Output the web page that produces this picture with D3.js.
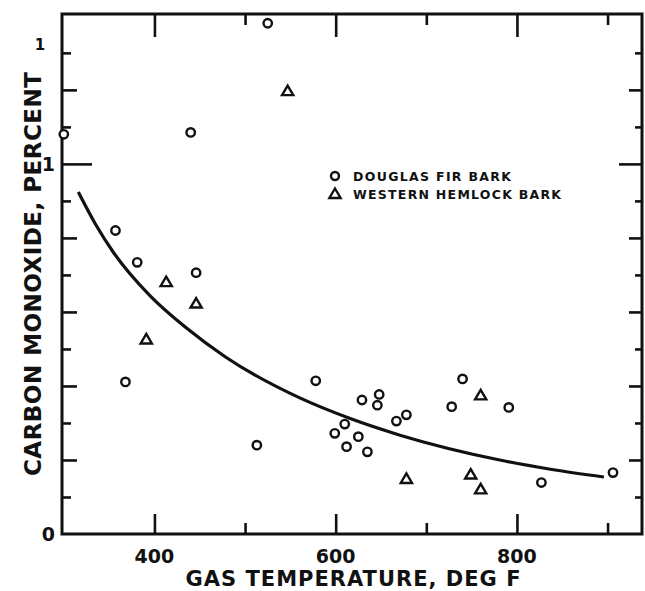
<!DOCTYPE html>
<html>
<head>
<meta charset="utf-8">
<script src="https://cdn.jsdelivr.net/npm/d3@7"></script>
<style>
  body { margin: 0; background: #fff; }
  text { font-family: "DejaVu Sans", sans-serif; font-weight: bold; fill: #111; }
</style>
</head>
<body>
<svg id="chart" width="645" height="591"></svg>
<script>
// Douglas fir bark: gas temperature (deg F) and carbon monoxide (percent)
const firTemp = [300, 525, 440, 357, 381, 446, 368, 513, 578, 629, 648, 646, 678, 667, 610, 599, 625, 612, 635, 740, 728, 791, 827, 906];
const firCO   = [1.08, 1.38, 1.085, 0.82, 0.734, 0.706, 0.411, 0.24, 0.414, 0.362, 0.377, 0.348, 0.322, 0.305, 0.297, 0.272, 0.263, 0.236, 0.222, 0.419, 0.344, 0.342, 0.139, 0.166];

// Western hemlock bark
const hemTemp = [547, 413, 391, 446, 760, 678, 749, 760];
const hemCO   = [1.198, 0.682, 0.527, 0.624, 0.376, 0.150, 0.162, 0.122];

// Smoothed trend through both sets
const trendTemp = [316, 335, 355, 395, 435, 478, 561, 616, 671, 781, 837, 896];
const trendCO   = [0.924, 0.837, 0.760, 0.644, 0.557, 0.479, 0.367, 0.312, 0.267, 0.200, 0.175, 0.154];

// Axis ticks and labels
const xLabelTicks = [400, 600, 800];
const xLongTicks  = [400, 600, 800];
const xShortTicks = [500, 700, 900];
const yLabelTicks = [0, 1];
const yLongTicks  = [1];
const yMidTicks   = [0.2, 0.4, 0.6, 0.8, 1.2];
const yShortTicks = [0.1, 0.3, 0.5, 0.7, 0.9, 1.1, 1.3];

const legendItems = ["DOUGLAS FIR BARK", "WESTERN HEMLOCK BARK"];
const xTitle = "GAS TEMPERATURE, DEG F";
const yTitle = "CARBON MONOXIDE, PERCENT";
const yTitleNote = "1";

const svg = d3.select("#chart");
const L = 62, R = 642, T = 14, B = 534;

const x = d3.scaleLinear().domain([298, 938]).range([L, R]);
const y = d3.scaleLinear().domain([0, 1.405]).range([B, T]);

// frame
svg.append("rect")
  .attr("x", L).attr("y", T).attr("width", R - L).attr("height", B - T)
  .attr("fill", "none").attr("stroke", "#111").attr("stroke-width", 3);

function ticks(axisGen, transform, vals, len) {
  const g = svg.append("g").attr("transform", transform)
    .call(axisGen.tickValues(vals).tickSize(-len).tickFormat(""));
  g.select(".domain").remove();
  g.selectAll(".tick line").attr("stroke", "#111").attr("stroke-width", 2.6);
}

ticks(d3.axisLeft(y), `translate(${L},0)`, yLongTicks, 30);
ticks(d3.axisLeft(y), `translate(${L},0)`, yMidTicks, 15);
ticks(d3.axisLeft(y), `translate(${L},0)`, yShortTicks, 9);
ticks(d3.axisRight(y), `translate(${R},0)`, yLongTicks, 23);
ticks(d3.axisRight(y), `translate(${R},0)`, yMidTicks, 13);
ticks(d3.axisRight(y), `translate(${R},0)`, yShortTicks, 7);
ticks(d3.axisBottom(x), `translate(0,${B})`, xLongTicks, 20);
ticks(d3.axisBottom(x), `translate(0,${B})`, xShortTicks, 11);
ticks(d3.axisTop(x), `translate(0,${T})`, xLongTicks, 23);
ticks(d3.axisTop(x), `translate(0,${T})`, xShortTicks, 11);

// tick labels
svg.selectAll(".xl").data(xLabelTicks).enter().append("text")
  .attr("x", d => x(d)).attr("y", 563)
  .attr("text-anchor", "middle").attr("font-size", 19)
  .text(d => d);
svg.selectAll(".yl").data(yLabelTicks).enter().append("text")
  .attr("x", 55).attr("y", d => y(d) + 7)
  .attr("text-anchor", "end").attr("font-size", 19)
  .text(d => d);

// axis titles
svg.append("text")
  .attr("x", 353).attr("y", 586)
  .attr("text-anchor", "middle").attr("font-size", 21)
  .attr("textLength", 335).attr("lengthAdjust", "spacing")
  .text(xTitle);
svg.append("text")
  .attr("transform", "translate(41,274) rotate(-90)")
  .attr("text-anchor", "middle").attr("font-size", 23)
  .attr("textLength", 404).attr("lengthAdjust", "spacing")
  .text(yTitle);
svg.append("text")
  .attr("x", 40).attr("y", 50)
  .attr("text-anchor", "middle").attr("font-size", 15)
  .text(yTitleNote);

// trend curve
const line = d3.line().x(d => x(d[0])).y(d => y(d[1])).curve(d3.curveMonotoneX);
svg.append("path")
  .datum(trendTemp.map((t, i) => [t, trendCO[i]]))
  .attr("d", line)
  .attr("fill", "none").attr("stroke", "#111").attr("stroke-width", 3.2);

// markers
function tri(cx, cy) {
  return `M${cx},${cy - 5}L${cx + 5.6},${cy + 4.5}L${cx - 5.6},${cy + 4.5}Z`;
}

svg.selectAll(".fir").data(firTemp.map((t, i) => [t, firCO[i]])).enter().append("circle")
  .attr("cx", d => x(d[0])).attr("cy", d => y(d[1])).attr("r", 4.2)
  .attr("fill", "#fff").attr("stroke", "#111").attr("stroke-width", 2.4);

svg.selectAll(".hem").data(hemTemp.map((t, i) => [t, hemCO[i]])).enter().append("path")
  .attr("d", d => tri(x(d[0]), y(d[1])))
  .attr("fill", "#fff").attr("stroke", "#111").attr("stroke-width", 2.4)
  .attr("stroke-linejoin", "miter");

// legend
const lg = svg.append("g");
lg.append("circle").attr("cx", 335).attr("cy", 176).attr("r", 4)
  .attr("fill", "#fff").attr("stroke", "#111").attr("stroke-width", 2.4);
lg.append("path").attr("d", tri(335, 193.5))
  .attr("fill", "#fff").attr("stroke", "#111").attr("stroke-width", 2.4);
lg.selectAll("text").data(legendItems).enter().append("text")
  .attr("x", 353).attr("y", (d, i) => 181 + i * 17.5)
  .attr("font-size", 12.5)
  .attr("textLength", (d, i) => i === 0 ? 158 : 208).attr("lengthAdjust", "spacing")
  .text(d => d);
</script>
</body>
</html>
